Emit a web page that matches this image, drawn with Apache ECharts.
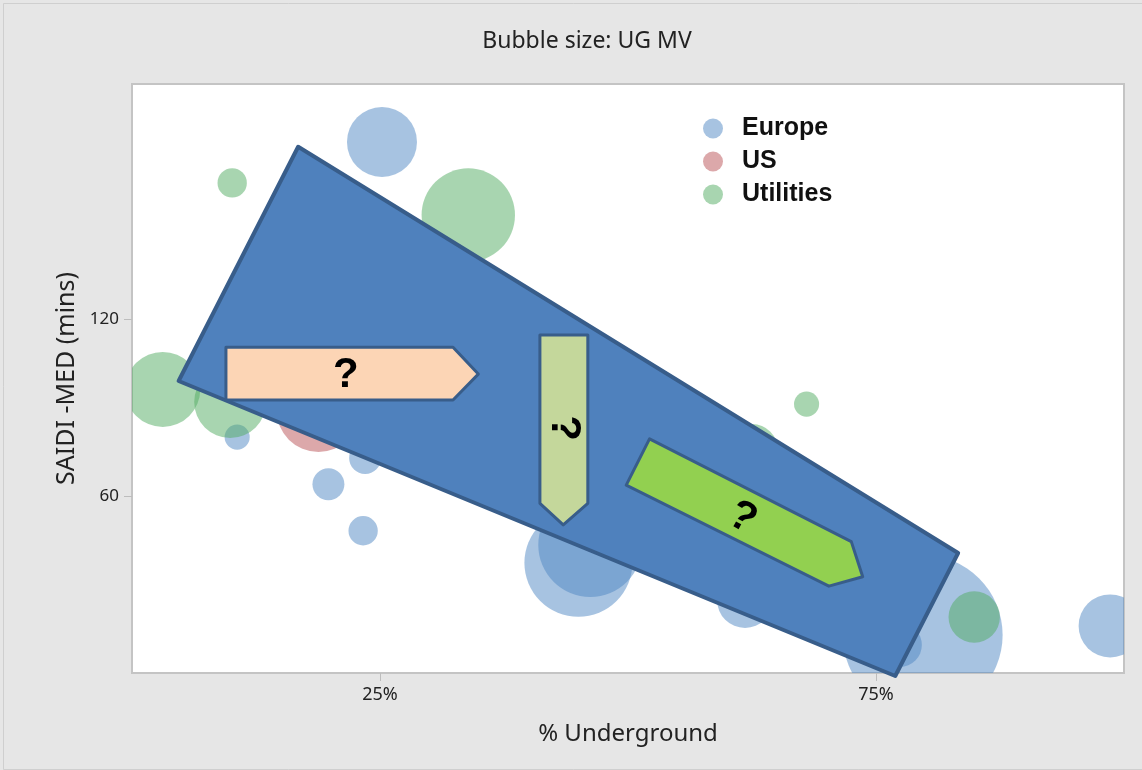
<!DOCTYPE html>
<html>
<head>
<meta charset="utf-8">
<script src="https://cdn.jsdelivr.net/npm/echarts@6/dist/echarts.min.js"></script>
<style>html,body{margin:0;padding:0;background:#e6e6e6;}#c{width:1142px;height:770px;}</style>
</head>
<body>
<div id="c"></div>
<script>
// [% Underground, SAIDI-MED (mins), UG MV]
const europe = [
  [25.2, 180.3, 49],
  [10.6, 80.1, 6.3],
  [19.8, 64.1, 10.2],
  [23.3, 48.3, 8.6],
  [23.5, 73.0, 10.2],
  [45.0, 37.4, 116.6],
  [46.2, 43.5, 108.2],
  [61.8, 24.8, 31.4],
  [79.7, 12.9, 256],
  [77.4, 9.5, 19.4],
  [98.6, 16.0, 39.7]
];
const us = [
  [18.8, 89.3, 70.6]
];
const utilities = [
  [10.1, 166.4, 8.6],
  [33.9, 155.5, 87.2],
  [3.1, 96.3, 56.3],
  [9.9, 92.0, 51.8],
  [68.0, 91.3, 6.3],
  [62.5, 75.7, 27],
  [84.9, 19.0, 26.4]
];
const seriesNames = ['Europe', 'US', 'Utilities'];
const xTickValues = [25, 75];
const yTickValues = [60, 120];

// Annotation overlays, vertices in data units (% Underground, mins)
const wedge = [[16.75, 178.7], [83.28, 40.75], [76.94, -1.02], [4.70, 99.15]];
const arrowRight = [[9.47, 110.6], [32.36, 110.6], [34.91, 101.5], [32.36, 92.7], [9.47, 92.7]];
const arrowDown = [[41.12, 114.8], [45.95, 114.8], [45.95, 57.6], [43.47, 50.3], [41.12, 57.6]];
const arrowDiag = [[52.17, 79.5], [72.51, 44.6], [73.66, 32.7], [70.25, 29.5], [49.82, 63.8]];
const labelPoints = [[50, 90], [21.55, 101.2], [43.5, 83.2], [61.53, 52.6]];
const labelTexts = ['', '?', '?', '?'];

const shapes = [wedge, arrowRight, arrowDown, arrowDiag];
const shapeStyles = [
  {fill: '#4f81bd', stroke: '#385d8a', lineWidth: 4, rot: 0},
  {fill: '#fcd5b5', stroke: '#385d8a', lineWidth: 3, rot: 0},
  {fill: '#c4d79b', stroke: '#385d8a', lineWidth: 3, rot: -Math.PI / 2},
  {fill: '#92d050', stroke: '#385d8a', lineWidth: 3, rot: -0.5}
];

const chart = echarts.init(document.getElementById('c'));
const font = 'Noto Sans';
const bubbleDiameter = v => Math.sqrt(v) * 10;

function bubbleSeries(name, data, color) {
  return {
    name: name, type: 'custom', data: data, clip: true,
    itemStyle: {color: color},
    encode: {x: 0, y: 1},
    renderItem: function (params, api) {
      const c = api.coord([api.value(0), api.value(1)]);
      return {
        type: 'circle',
        shape: {cx: c[0], cy: c[1], r: bubbleDiameter(api.value(2)) / 2},
        style: {fill: api.visual('color')}
      };
    }
  };
}

chart.setOption({
  animation: false,
  backgroundColor: '#e6e6e6',
  title: {
    text: 'Bubble size: UG MV',
    left: 582, top: 25, textAlign: 'center',
    textStyle: {fontFamily: font, fontSize: 23, fontWeight: 'normal', color: '#222'}
  },
  legend: {
    orient: 'vertical', left: 698, top: 111,
    itemWidth: 20, itemHeight: 20, itemGap: 8,
    icon: 'circle',
    data: seriesNames,
    textStyle: {fontFamily: 'Liberation Sans', fontSize: 25, fontWeight: 'bold', color: '#111', lineHeight: 25, padding: [0, 0, 0, 14]}
  },
  grid: {
    left: 132, right: 18, top: 84, bottom: 97,
    show: true, backgroundColor: '#ffffff', borderColor: '#c4c4c4', borderWidth: 2
  },
  xAxis: {
    type: 'value', min: 0, max: 100,
    name: '% Underground', nameLocation: 'middle', nameGap: 49,
    nameTextStyle: {fontFamily: font, fontSize: 24, color: '#222'},
    axisLine: {show: false},
    splitLine: {show: false},
    axisTick: {show: true, customValues: xTickValues, length: 8, lineStyle: {color: '#bdbdbd', width: 1}},
    axisLabel: {customValues: xTickValues, formatter: '{value}%', margin: 13, fontFamily: font, fontSize: 18, color: '#222'}
  },
  yAxis: {
    type: 'value', min: 0, max: 200,
    name: 'SAIDI -MED (mins)', nameLocation: 'middle', nameGap: 53, nameRotate: 90,
    nameTextStyle: {fontFamily: font, fontSize: 25, color: '#222'},
    axisLine: {show: false},
    splitLine: {show: false},
    axisTick: {show: true, customValues: yTickValues, length: 8, lineStyle: {color: '#bdbdbd', width: 1}},
    axisLabel: {customValues: yTickValues, margin: 13, fontFamily: font, fontSize: 17, color: '#222'}
  },
  series: [
    bubbleSeries('Europe', europe, 'rgba(79,135,195,0.5)'),
    bubbleSeries('US', us, 'rgba(186,82,86,0.5)'),
    bubbleSeries('Utilities', utilities, 'rgba(82,172,98,0.5)'),
    {
      type: 'custom', z: 5, clip: false, silent: true,
      data: labelPoints,
      renderItem: function (params, api) {
        const i = params.dataIndex;
        const st = shapeStyles[i];
        const pts = shapes[i].map(p => api.coord(p));
        const c = api.coord(labelPoints[i]);
        const children = [{
          type: 'polygon',
          shape: {points: pts},
          style: {fill: st.fill, stroke: st.stroke, lineWidth: st.lineWidth, lineJoin: 'round'}
        }];
        if (labelTexts[i]) {
          children.push({
            type: 'text', x: c[0], y: c[1], rotation: st.rot,
            style: {text: labelTexts[i], fill: '#000', font: 'bold 42px "Liberation Sans"', align: 'center', verticalAlign: 'middle'}
          });
        }
        return {type: 'group', children: children};
      }
    }
  ],
  graphic: [{
    type: 'rect', silent: true, z: -1,
    shape: {x: 3.5, y: 3.5, width: 1140, height: 766},
    style: {fill: null, stroke: '#cfcfcf', lineWidth: 1}
  }]
});
</script>
</body>
</html>
